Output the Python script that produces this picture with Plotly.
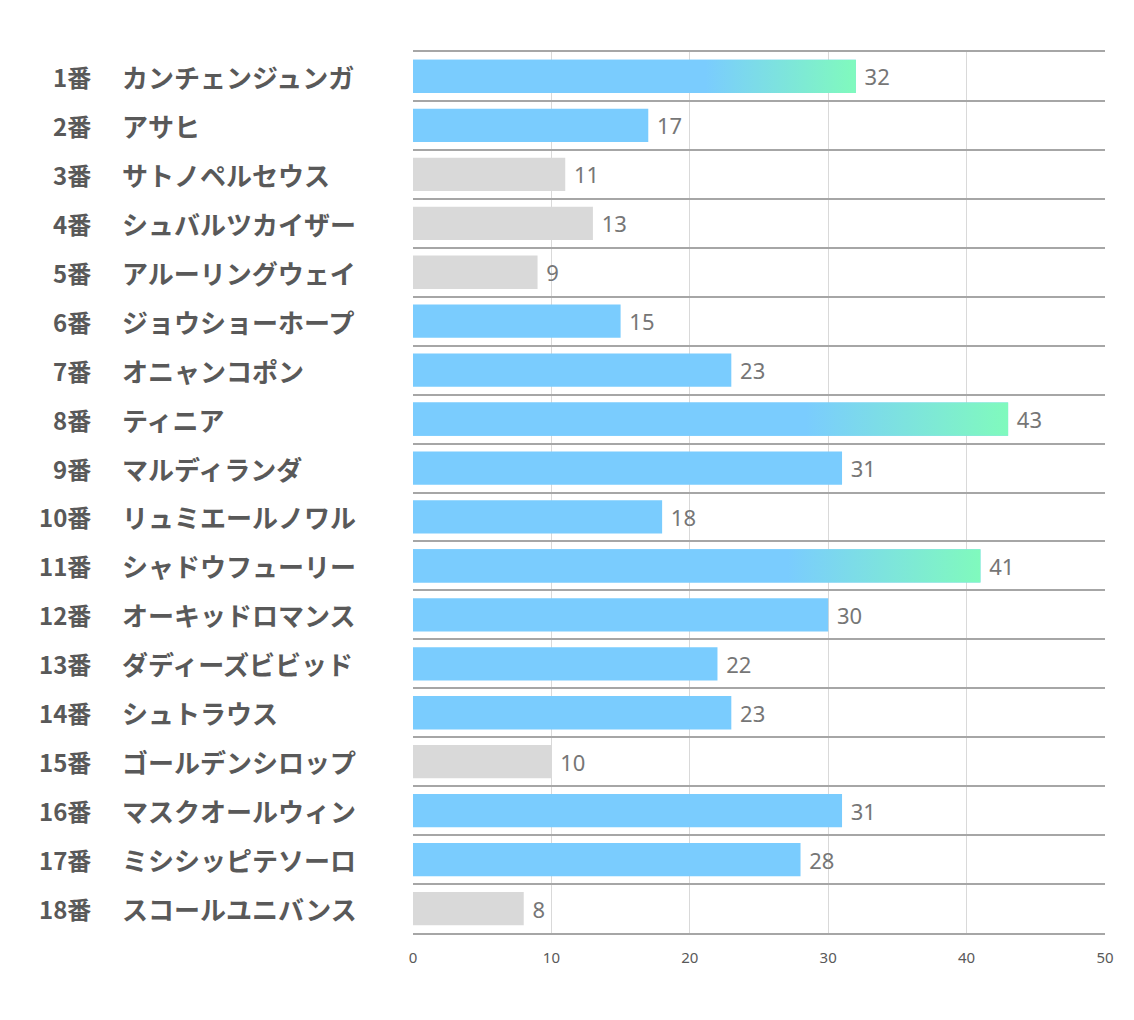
import plotly.graph_objects as go

# ---- data ----
numbers = ["1番", "2番", "3番", "4番", "5番", "6番", "7番", "8番", "9番", "10番",
           "11番", "12番", "13番", "14番", "15番", "16番", "17番", "18番"]
names = ["カンチェンジュンガ", "アサヒ", "サトノペルセウス", "シュバルツカイザー",
         "アルーリングウェイ", "ジョウショーホープ", "オニャンコポン", "ティニア",
         "マルディランダ", "リュミエールノワル", "シャドウフューリー", "オーキッドロマンス",
         "ダディーズビビッド", "シュトラウス", "ゴールデンシロップ", "マスクオールウィン",
         "ミシシッピテソーロ", "スコールユニバンス"]
values = [32, 17, 11, 13, 9, 15, 23, 43, 31, 18, 41, 30, 22, 23, 10, 31, 28, 8]
groups = ["top", "mid", "low", "low", "low", "mid", "mid", "top", "mid", "mid",
          "top", "mid", "mid", "mid", "low", "mid", "mid", "low"]
x_ticks = [0, 10, 20, 30, 40, 50]

# ---- style ----
BLUE = "#7ACCFE"
GREEN = "#80FABD"
GRAY = "#D9D9D9"
color_map = {"top": BLUE, "mid": BLUE, "low": GRAY}
BAR_W = 0.68
LABEL_COLOR = "#595959"

idx = list(range(len(values)))

fig = go.Figure()
fig.add_trace(go.Bar(
    y=idx, x=values, orientation="h", width=BAR_W,
    marker=dict(color=[color_map[g] for g in groups], line=dict(width=0)),
    text=values, texttemplate=" %{text}", textposition="outside", cliponaxis=False,
    textfont=dict(family="Noto Sans", size=22, color="#767676"),
    hoverinfo="skip",
))

# gradient overlays for the top group
for i, (v, g) in enumerate(zip(values, groups)):
    if g != "top":
        continue
    y0, y1 = i - BAR_W / 2, i + BAR_W / 2
    fig.add_trace(go.Scatter(
        x=[0, v, v, 0, 0], y=[y0, y0, y1, y1, y0],
        mode="lines", line=dict(width=0), fill="toself",
        fillgradient=dict(type="horizontal", start=0, stop=v,
                          colorscale=[[0, BLUE], [0.66, BLUE], [1, GREEN]]),
        hoverinfo="skip", showlegend=False,
    ))

# left labels
annotations = []
for i, (num, nm) in enumerate(zip(numbers, names)):
    annotations.append(dict(
        x=-0.4624, xref="paper", y=i, yref="y", xanchor="right", yanchor="middle",
        text=f"<b>{num}</b>", showarrow=False,
        font=dict(family="Noto Sans CJK JP", size=24, color=LABEL_COLOR),
    ))
    annotations.append(dict(
        x=-0.4234, xref="paper", y=i, yref="y", xanchor="left", yanchor="middle",
        text=f"<b>{nm}</b>", showarrow=False,
        font=dict(family="Noto Sans CJK JP", size=26, color=LABEL_COLOR),
    ))

fig.update_layout(
    width=1118, height=1004,
    margin=dict(l=405, r=21, t=44, b=79),
    paper_bgcolor="white", plot_bgcolor="white",
    showlegend=False,
    annotations=annotations,
    xaxis=dict(
        range=[0, 50], tickvals=x_ticks, showgrid=True, gridcolor="#D9D9D9", gridwidth=1,
        zeroline=False, showline=True, mirror=True, linecolor="#A6A6A6", linewidth=1.5,
        ticks="", ticklabelstandoff=10,
        tickfont=dict(family="Noto Sans", size=15, color=LABEL_COLOR),
    ),
    yaxis=dict(
        range=[len(values) - 0.5, -0.5],
        tickvals=[i + 0.5 for i in idx] + [-0.5],
        showticklabels=False, showgrid=True, gridcolor="#A6A6A6", gridwidth=1.5,
        zeroline=False, ticks="",
    ),
)

fig.write_html("out.html")
